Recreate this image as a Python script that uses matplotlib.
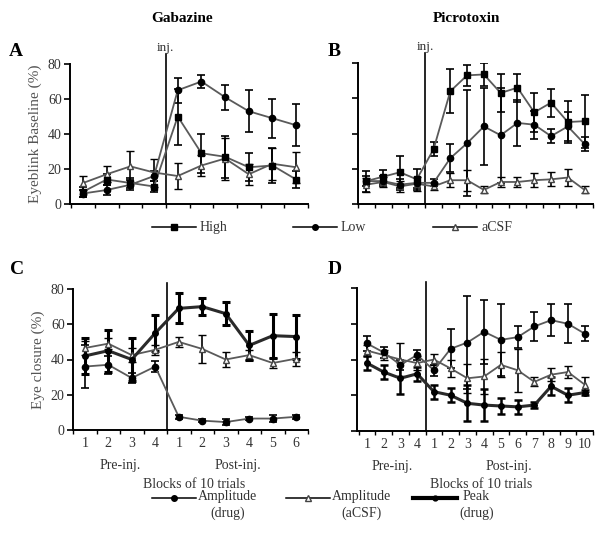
import numpy as np
import matplotlib
matplotlib.use("Agg")
import matplotlib.pyplot as plt
from matplotlib.lines import Line2D

plt.rcParams['font.family'] = 'serif'
plt.rcParams['font.serif'] = ['Liberation Serif', 'DejaVu Serif']

# ---- data ----
pre_labels = ['1', '2', '3', '4']
post_labels_gab = ['1', '2', '3', '4', '5', '6']
post_labels_pic = ['1', '2', '3', '4', '5', '6', '7', '8', '9', '10']

# A: Gabazine, eyeblink baseline
a_high = [7, 14, 12, 10, 50, 29, 27, 21, 22, 14]
a_high_err = [3, 3, 3, 3, 16, 11, 12, 8, 10, 5]
a_low = [6, 8, 11, 16, 65, 70, 61, 53, 49, 45]
a_low_err = [2, 3, 3, 3, 7, 3.5, 7, 12, 11, 12]
a_acsf = [12, 17, 21.5, 18, 16, 22, 26, 17, 23, 21]
a_acsf_err = [4, 4.5, 9, 8, 7.5, 6, 12, 6, 9, 9]

# B: Picrotoxin, eyeblink baseline
b_high = [13, 15.5, 18, 14, 31, 64, 73, 73.5, 63, 66, 52, 57.5, 46.5, 47]
b_high_err = [6, 4, 9, 6, 4, 12.5, 6, 6.5, 11, 8, 11, 8, 12, 15]
b_low = [13, 13, 11, 12, 12, 26, 34.5, 44, 39, 46, 45, 38.5, 44, 34]
b_low_err = [3, 3, 3, 3, 2, 8, 30, 22, 27, 13, 8, 4, 8, 4]
b_acsf = [11, 12.5, 10, 11.5, 10, 13.5, 13.5, 8, 12.5, 12.5, 13.5, 14, 15, 8]
b_acsf_err = [4, 3, 3, 4, 2, 4, 6, 2, 3, 3, 4, 4, 5, 2]

# C: Gabazine, eye closure
c_amp = [36, 37, 29.5, 36, 7.5, 5.3, 4.5, 6.5, 6.5, 7.5]
c_amp_err = [12, 5, 3, 3, 1, 1, 1.5, 1, 2, 1]
c_acsf = [46.5, 49, 42.5, 45.5, 50, 46, 40, 42.5, 38, 40.5]
c_acsf_err = [4, 3, 4, 3, 3, 8, 4, 3, 3, 4]
c_peak = [42, 45, 40, 55, 69, 70, 66, 48, 53.5, 53]
c_peak_err = [10, 12, 12, 10, 8.5, 5, 6.5, 8, 12.5, 12.5]

# D: Picrotoxin, eye closure
d_amp = [49, 44, 37, 42.5, 34, 46, 49.5, 55.5, 51, 52.5, 58.5, 62, 60, 54.5]
d_amp_err = [4, 3, 3, 3, 3, 11, 26, 18, 20, 6, 8, 9, 11, 4]
d_acsf = [45, 42.5, 40, 38, 40, 35, 29.5, 30.5, 37, 34, 27.5, 31.5, 33, 26]
d_acsf_err = [3, 3, 9, 4, 3, 5, 8, 10, 7, 12, 2.5, 3.5, 3.5, 4]
d_peak = [38, 33, 29.5, 32, 22, 20, 15.5, 14.5, 14, 13.5, 14.5, 25, 20, 21.5]
d_peak_err = [4, 4, 9, 4, 4, 4, 10, 9, 4.5, 4, 1.5, 5, 4, 1.5]

W, H = 601, 546
GREY = '#5a5a5a'
TXT = '#333333'

fig = plt.figure(figsize=(W / 100, H / 100), dpi=100)


def frac(x0, y_top, x1, y_bot):
    return [x0 / W, 1 - y_bot / H, (x1 - x0) / W, (y_bot - y_top) / H]


def px(x, y):
    return x / W, 1 - y / H


STYLES = {
    'square': dict(marker='s', ms=5, mfc='black', mec='black', color=GREY, lw=1.3),
    'circle': dict(marker='o', ms=4.5, mfc='black', mec='black', color=GREY, lw=1.3),
    'tri': dict(marker='^', ms=5, mfc='white', mec='#444444', mew=1.0, color=GREY, lw=1.3),
    'peak': dict(marker='o', ms=4, mfc='black', mec='black', color='#2a2a2a', lw=2.2),
}


def series(ax, y, err, style, elw=1.2):
    x = np.arange(1, len(y) + 1)
    ax.errorbar(x, y, yerr=err, ecolor='black', elinewidth=elw, capsize=3.2,
                capthick=elw, zorder=3, **STYLES[style])


def setup(ax, n, xlo, xhi, ylabels, xlabels, inj_top, inj_text=False):
    ax.set_xlim(xlo, xhi)
    ax.set_ylim(0, 80)
    for s in ['top', 'right']:
        ax.spines[s].set_visible(False)
    for s in ['left', 'bottom']:
        ax.spines[s].set_linewidth(1.4)
    ax.set_yticks([0, 20, 40, 60, 80])
    ax.tick_params(axis='y', direction='out', length=4, width=1.2,
                   labelsize=10, labelcolor=TXT, labelleft=ylabels, pad=2)
    ax.set_xticks(np.arange(1, n + 1))
    ax.set_xticks(np.arange(0.5, n + 1, 1.0), minor=True)
    ax.tick_params(axis='x', which='major', length=0, labelsize=10,
                   labelcolor=TXT, pad=5)
    ax.tick_params(axis='x', which='minor', direction='out', length=3, width=1.0)
    if xlabels is None:
        ax.set_xticklabels([])
    else:
        ax.set_xticklabels(xlabels)
    ax.axvline(4.5, ymin=0, ymax=inj_top, color='black', lw=1.2,
               clip_on=False, zorder=2)
    if inj_text:
        ax.text(4.5, inj_top, 'inj.', transform=ax.get_xaxis_transform(),
                ha='center', va='bottom', fontsize=9.5, color=TXT)


# ---- panel A ----
axA = fig.add_axes(frac(70, 64, 308, 204))
setup(axA, 10, 0.45, 10.5, True, None, 1.07, inj_text=True)
series(axA, a_acsf, a_acsf_err, 'tri')
series(axA, a_high, a_high_err, 'square')
series(axA, a_low, a_low_err, 'circle')
axA.set_ylabel('Eyeblink Baseline (%)', fontsize=11, color='#555555', labelpad=4)

# ---- panel B ----
axB = fig.add_axes(frac(358, 63, 593, 204))
setup(axB, 14, 0.59, 14.35, False, None, 1.07, inj_text=True)
series(axB, b_acsf, b_acsf_err, 'tri')
series(axB, b_high, b_high_err, 'square')
series(axB, b_low, b_low_err, 'circle')

# ---- panel C ----
axC = fig.add_axes(frac(73, 289, 308, 430))
setup(axC, 10, 0.5, 10.45, True, pre_labels + post_labels_gab, 1.04)
series(axC, c_acsf, c_acsf_err, 'tri')
series(axC, c_amp, c_amp_err, 'circle')
series(axC, c_peak, c_peak_err, 'peak', elw=2.2)
axC.set_ylabel('Eye closure (%)', fontsize=11, color='#555555', labelpad=4)

# ---- panel D ----
axD = fig.add_axes(frac(357, 288, 593, 431))
setup(axD, 14, 0.41, 14.35, False, pre_labels + post_labels_pic, 1.04)
series(axD, d_acsf, d_acsf_err, 'tri')
series(axD, d_amp, d_amp_err, 'circle')
series(axD, d_peak, d_peak_err, 'peak', elw=1.8)

# ---- titles and panel letters ----
fig.text(*px(182, 18), 'Gabazine', ha='center', va='center',
         fontsize=11, fontweight='bold')
fig.text(*px(466, 18), 'Picrotoxin', ha='center', va='center',
         fontsize=11, fontweight='bold')
for letter, (x, y) in zip('ABCD', [(16, 51), (334, 51), (17, 270), (335, 270)]):
    fig.text(*px(x, y), letter, ha='center', va='center',
             fontsize=14, fontweight='bold')

# ---- group labels under C and D ----
for ax in (axC, axD):
    tr = ax.get_xaxis_transform()
    n = len(ax.get_xticks())
    ax.text(2.5, -0.25, 'Pre-inj.', transform=tr, ha='center', va='center',
            fontsize=10, color=TXT)
    ax.text((5 + n) / 2, -0.25, 'Post-inj.', transform=tr, ha='center',
            va='center', fontsize=10, color=TXT)
fig.text(*px(194, 485), 'Blocks of 10 trials', ha='center', va='center',
         fontsize=10, color=TXT)
fig.text(*px(481, 485), 'Blocks of 10 trials', ha='center', va='center',
         fontsize=10, color=TXT)


# ---- legends (drawn as keys) ----
def key(x0, y, style, label, width=44, multiline=False):
    st = dict(STYLES[style])
    xa, ya = px(x0, y)
    xb, _ = px(x0 + width, y)
    xm, _ = px(x0 + width / 2, y)
    fig.add_artist(Line2D([xa, xb], [ya, ya], color='black',
                          lw=3.0 if style == 'peak' else 1.1,
                          transform=fig.transFigure))
    fig.add_artist(Line2D([xm], [ya], marker=st['marker'], ms=st['ms'] - 0.5,
                          mfc=st['mfc'], mec=st['mec'], ls='none',
                          transform=fig.transFigure))
    if multiline:
        fig.text(*px(x0 + width + 2, y - 8), label, ha='left', va='top',
                 multialignment='center', fontsize=10, color=TXT,
                 linespacing=1.35)
    else:
        fig.text(*px(x0 + width + 4, y), label, ha='left', va='center',
                 fontsize=10, color=TXT)


key(152, 227, 'square', 'High')
key(293, 227, 'circle', 'Low')
key(433, 227, 'tri', 'aCSF')

key(152, 498, 'circle', 'Amplitude\n(drug)', multiline=True)
key(286, 498, 'tri', 'Amplitude\n(aCSF)', multiline=True)
key(413, 498, 'peak', 'Peak\n(drug)', multiline=True)

fig.savefig('out.png', dpi=100)
